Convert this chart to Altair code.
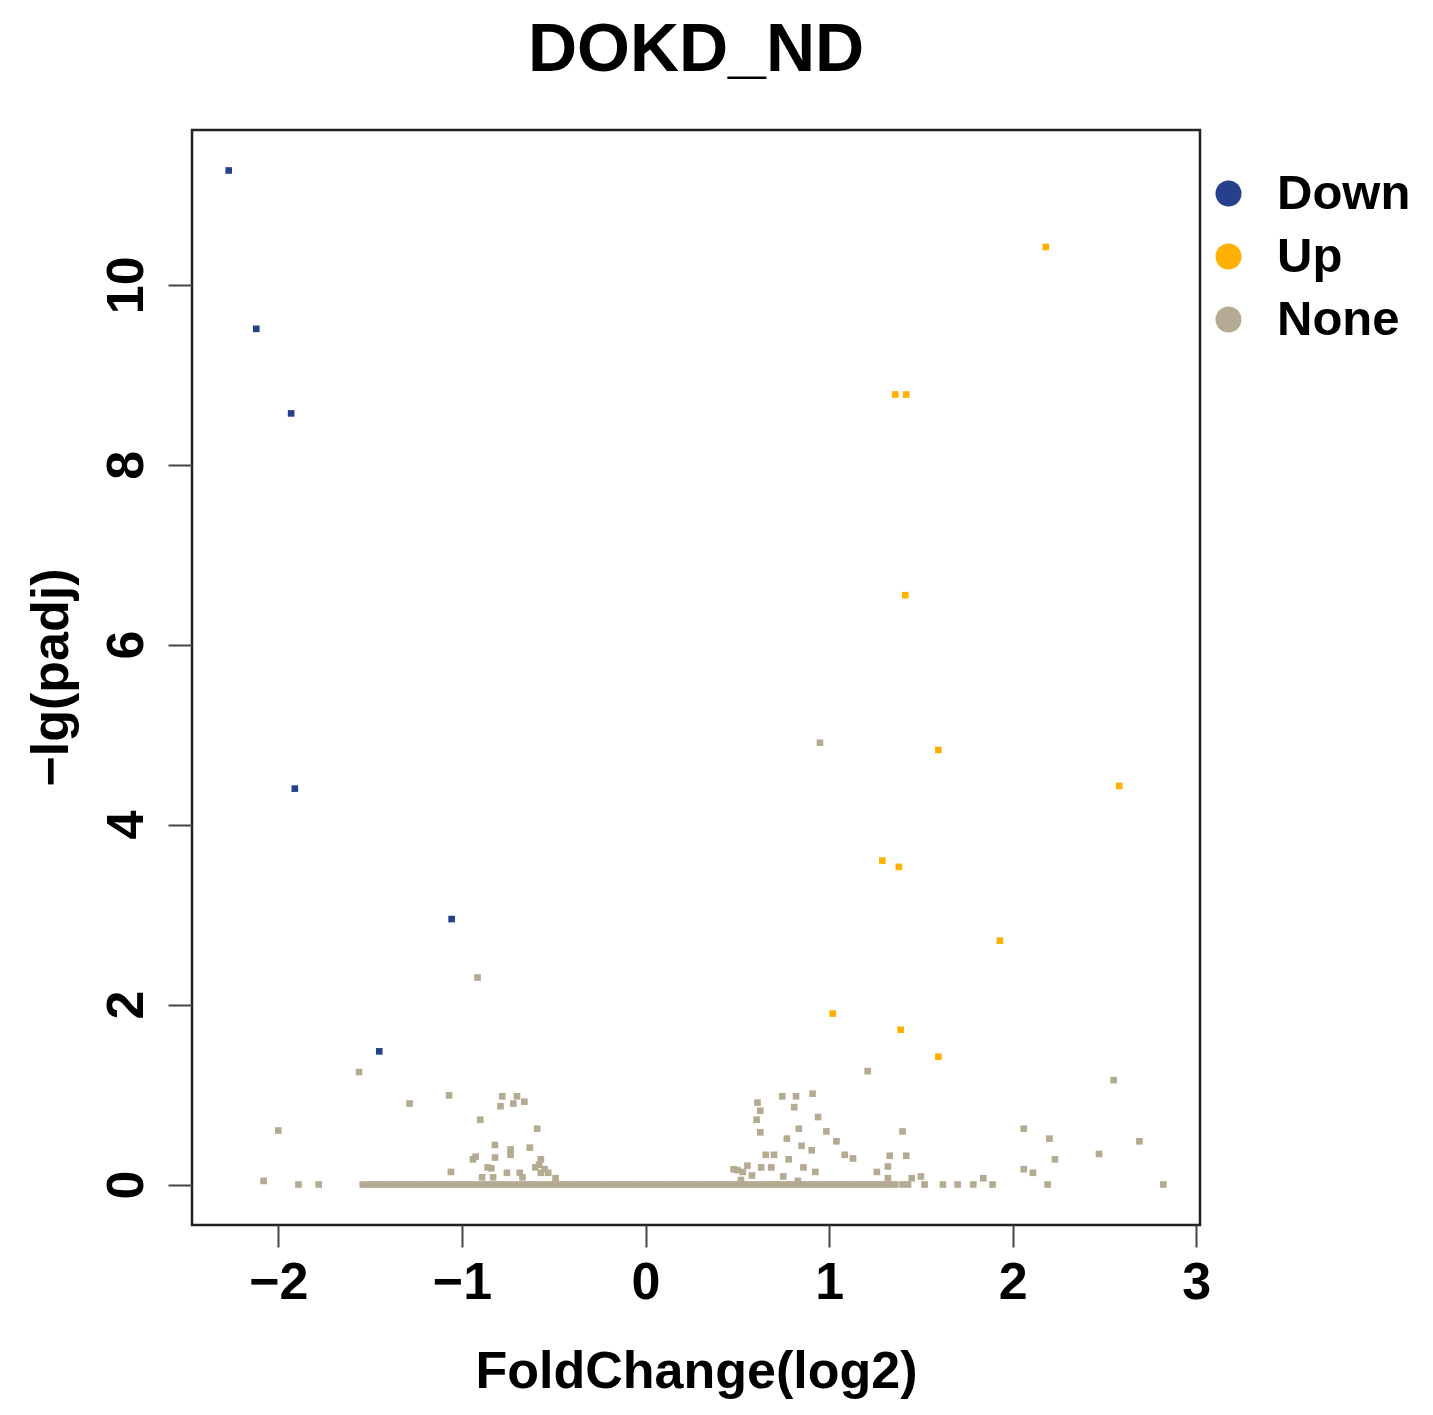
import altair as alt
import pandas as pd

# ---- data ----
down_x = [-2.27, -2.12, -1.93, -1.91, -1.056, -1.45]
down_y = [11.27, 9.51, 8.57, 4.40, 2.95, 1.48]

up_x = [2.18, 1.36, 1.42, 1.415, 1.595, 2.58, 1.29, 1.38, 1.93, 1.02, 1.39, 1.595]
up_y = [10.42, 8.78, 8.78, 6.55, 4.83, 4.43, 3.60, 3.53, 2.71, 1.90, 1.72, 1.42]

none_x = [-2.08, -2.00, -1.56, -1.285, -1.07, -1.06, -0.915, -0.90, -0.925, -0.94, -0.86,
          -0.78, -0.70, -0.79, -0.72, -0.66, -0.59, -0.82, -0.735, -0.735, -0.63, -0.82,
          -0.84, -0.755, -0.685, -0.57, -0.60, -0.57, -0.53, -0.89, -0.83, -0.67, -0.49,
          -0.58, -0.55,
          0.95, 1.21, 2.55, 0.745, 0.82, 0.91, 0.61, 0.81, 0.625, 0.605, 0.94, 0.625, 0.835,
          0.77, 0.985, 1.04, 0.85, 0.905, 0.655, 0.70, 1.085, 1.13, 0.78, 1.40, 1.33, 1.42,
          1.32, 1.26, 0.555, 0.48, 0.53, 0.63, 0.685, 0.86, 0.925, 0.75, 0.83, 1.32, 1.50,
          1.45, 2.06, 2.20, 2.69, 2.23, 2.47, 2.06, 2.11, 1.84, 0.58, 0.52, 0.50,
          -1.89, -1.78, 1.33, 1.36, 1.40, 1.43, 1.52, 1.62, 1.70, 1.785, 1.89, 2.19, 2.82]
none_y = [0.04, 0.60, 1.25, 0.90, 0.99, 0.14, 2.30, 0.72, 0.31, 0.28, 0.19,
          0.98, 0.98, 0.87, 0.90, 0.92, 0.62, 0.44, 0.39, 0.33, 0.41, 0.30,
          0.18, 0.13, 0.13, 0.28, 0.19, 0.13, 0.13, 0.08, 0.08, 0.08, 0.07,
          0.22, 0.17,
          4.91, 1.26, 1.16, 0.98, 0.98, 1.01, 0.91, 0.86, 0.82, 0.72, 0.75, 0.58, 0.62,
          0.51, 0.59, 0.48, 0.43, 0.38, 0.33, 0.33, 0.33, 0.29, 0.28, 0.59, 0.32, 0.32,
          0.20, 0.14, 0.21, 0.17, 0.14, 0.19, 0.19, 0.19, 0.14, 0.09, 0.04, 0.07, 0.09,
          0.07, 0.62, 0.51, 0.48, 0.28, 0.34, 0.17, 0.13, 0.07, 0.10, 0.05, 0.16,
          0, 0, 0, 0, 0, 0, 0, 0, 0, 0, 0, 0, 0]

# dense band of genes with padj ~ 1 (y = 0)
base_x = [-1.54, -1.515, -1.49, -1.465, -1.44, -1.415, -1.39, -1.365, -1.34, -1.315, -1.29,
          -1.265, -1.24, -1.215, -1.19, -1.165, -1.14, -1.115, -1.09, -1.065, -1.04, -1.015,
          -0.99, -0.965, -0.94, -0.915, -0.89, -0.865, -0.84, -0.815, -0.79, -0.765, -0.74,
          -0.715, -0.69, -0.665, -0.64, -0.615, -0.59, -0.565, -0.54, -0.515, -0.49, -0.465,
          -0.44, -0.415, -0.39, -0.365, -0.34, -0.315, -0.29, -0.265, -0.24, -0.215, -0.19,
          -0.165, -0.14, -0.115, -0.09, -0.065, -0.04, -0.015, 0.01, 0.035, 0.06, 0.085, 0.11,
          0.135, 0.16, 0.185, 0.21, 0.235, 0.26, 0.285, 0.31, 0.335, 0.36, 0.385, 0.41, 0.435,
          0.46, 0.485, 0.51, 0.535, 0.56, 0.585, 0.61, 0.635, 0.66, 0.685, 0.71, 0.735, 0.76,
          0.785, 0.81, 0.835, 0.86, 0.885, 0.91, 0.935, 0.96, 0.985, 1.01, 1.035, 1.06, 1.085,
          1.11, 1.135, 1.16, 1.185, 1.21, 1.235, 1.26, 1.285, 1.30]

groups = ["Down", "Up", "None"]
colors = ["#27408B", "#FFB000", "#B5AA92"]
x_ticks = [-2, -1, 0, 1, 2, 3]
y_ticks = [0, 2, 4, 6, 8, 10]

rows = []
for x in base_x:
    rows.append({"x": x, "y": 0.0, "group": "None"})
for x, y in zip(none_x, none_y):
    rows.append({"x": x, "y": y, "group": "None"})
for x, y in zip(down_x, down_y):
    rows.append({"x": x, "y": y, "group": "Down"})
for x, y in zip(up_x, up_y):
    rows.append({"x": x, "y": y, "group": "Up"})
df = pd.DataFrame(rows)

FONT = "Liberation Sans"

chart = alt.Chart(df).mark_square(size=44, opacity=1).encode(
    x=alt.X("x:Q",
            scale=alt.Scale(domain=[-2.47, 3.02], nice=False, zero=False),
            axis=alt.Axis(values=x_ticks, title="FoldChange(log2)", grid=False, domain=False,
                          tickSize=22, tickWidth=2, tickColor="#444444",
                          labelFontSize=52, labelFont=FONT, labelFontWeight="bold",
                          labelColor="black", labelPadding=10, labelBaseline="top",
                          titleFontSize=52, titleFont=FONT, titleFontWeight="bold",
                          titleColor="black", titleX=504, titleY=162,
                          titleBaseline="alphabetic", titleAlign="center")),
    y=alt.Y("y:Q",
            scale=alt.Scale(domain=[-0.45, 11.72], nice=False, zero=False),
            axis=alt.Axis(values=y_ticks, title="−lg(padj)", grid=False, domain=False,
                          tickSize=24, tickWidth=2, tickColor="#444444",
                          labelFontSize=52, labelFont=FONT, labelFontWeight="bold",
                          labelColor="black", labelAngle=270, labelAlign="center",
                          labelBaseline="alphabetic", labelPadding=26,
                          titleFontSize=52, titleFont=FONT, titleFontWeight="bold",
                          titleColor="black", titleAngle=270, titleX=-125, titleY=547,
                          titleBaseline="alphabetic", titleAlign="center")),
    color=alt.Color("group:N",
                    scale=alt.Scale(domain=groups, range=colors),
                    legend=alt.Legend(title=None, orient="none", legendX=1012, legendY=39,
                                      symbolType="circle", symbolSize=676,
                                      symbolStrokeWidth=0, symbolOpacity=1,
                                      labelFontSize=49, labelFont=FONT,
                                      labelFontWeight="bold", labelColor="black",
                                      labelOffset=24, rowPadding=13, padding=0)),
).properties(
    width=1008,
    height=1095,
    title=alt.TitleParams("DOKD_ND", fontSize=68, font=FONT, fontWeight="bold",
                          color="black", anchor="middle", baseline="alphabetic",
                          offset=57, dy=66),
    autosize=alt.AutoSizeParams(type="none"),
    padding={"left": 184, "top": 122, "right": 225, "bottom": 190},
).configure_view(
    stroke="#222222", strokeWidth=2.5
)

chart.save("out.html", embed_options={"renderer": "svg", "actions": False})
